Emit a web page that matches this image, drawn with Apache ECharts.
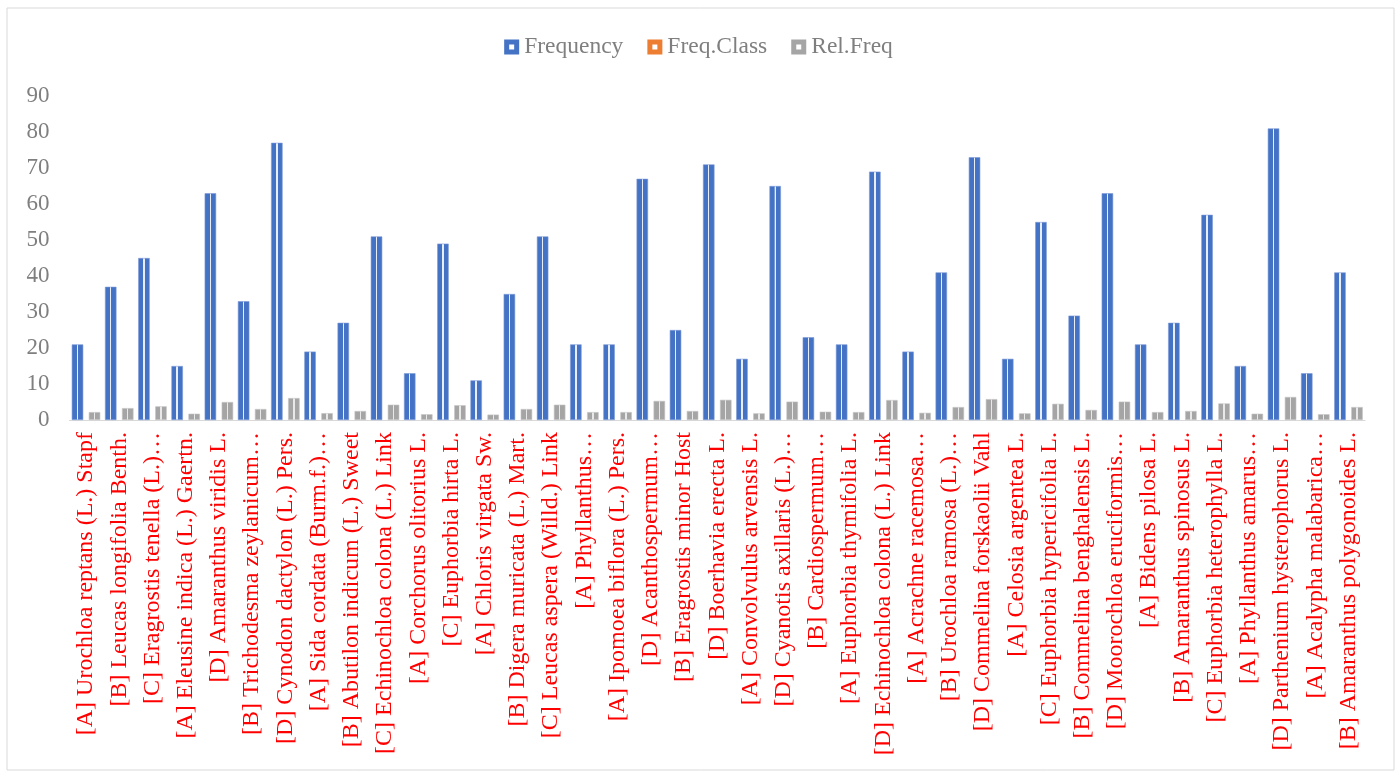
<!DOCTYPE html>
<html>
<head>
<meta charset="utf-8">
<script src="https://cdn.jsdelivr.net/npm/echarts@6/dist/echarts.min.js"></script>
<style>
html, body { margin: 0; padding: 0; background: #fff; }
#chart { width: 1397px; height: 772px; }
</style>
</head>
<body>
<div id="chart"></div>
<script>
var categories = [
	'[A] Urochloa reptans (L.) Stapf', '[B] Leucas longifolia Benth.', '[C] Eragrostis tenella (L.)…',
	'[A] Eleusine indica (L.) Gaertn.', '[D] Amaranthus viridis L.', '[B] Trichodesma zeylanicum…',
	'[D] Cynodon dactylon (L.) Pers.', '[A] Sida cordata (Burm.f.)…', '[B] Abutilon indicum (L.) Sweet',
	'[C] Echinochloa colona (L.) Link', '[A] Corchorus olitorius L.', '[C] Euphorbia hirta L.',
	'[A] Chloris virgata Sw.', '[B] Digera muricata (L.) Mart.', '[C] Leucas aspera (Willd.) Link',
	'[A] Phyllanthus…', '[A] Ipomoea biflora (L.) Pers.', '[D] Acanthospermum…',
	'[B] Eragrostis minor Host', '[D] Boerhavia erecta L.', '[A] Convolvulus arvensis L.',
	'[D] Cyanotis axillaris (L.)…', '[B] Cardiospermum…', '[A] Euphorbia thymifolia L.',
	'[D] Echinochloa colona (L.) Link', '[A] Acrachne racemosa…', '[B] Urochloa ramosa (L.)…',
	'[D] Commelina forskaolii Vahl', '[A] Celosia argentea L.', '[C] Euphorbia hypericifolia L.',
	'[B] Commelina benghalensis L.', '[D] Moorochloa eruciformis…', '[A] Bidens pilosa L.',
	'[B] Amaranthus spinosus L.', '[C] Euphorbia heterophylla L.', '[A] Phyllanthus amarus…',
	'[D] Parthenium hysterophorus L.', '[A] Acalypha malabarica…', '[B] Amaranthus polygonoides L.'
];

var frequency = [21, 37, 45, 15, 63, 33, 77, 19, 27, 51, 13, 49, 11, 35, 51, 21, 21, 67, 25, 71,
	17, 65, 23, 21, 69, 19, 41, 73, 17, 55, 29, 63, 21, 27, 57, 15, 81, 13, 41];

var freqClass = [0, 0, 0, 0, 0, 0, 0, 0, 0, 0, 0, 0, 0, 0, 0, 0, 0, 0, 0, 0,
	0, 0, 0, 0, 0, 0, 0, 0, 0, 0, 0, 0, 0, 0, 0, 0, 0, 0, 0];

var relFreq = [2.2, 3.3, 3.8, 1.75, 5.0, 3.05, 6.1, 1.9, 2.5, 4.25, 1.6, 4.1, 1.5, 3.05, 4.25, 2.2, 2.2, 5.3, 2.5, 5.6,
	1.85, 5.1, 2.3, 2.2, 5.55, 2.0, 3.6, 5.8, 1.85, 4.5, 2.8, 5.1, 2.2, 2.5, 4.6, 1.75, 6.4, 1.6, 3.6];

var yTicks = { min: 0, max: 90, interval: 10 };

var serifFont = "'Liberation Serif', 'Times New Roman', serif";
var squareIcon = 'path://M0,0H15V15H0Z M5,5V10H10V5Z';

var blue = '#4472c4', orange = '#ed7d31', grey = '#a5a5a5';

// bar fill with a thin pale stripe down the middle
function stripe(base, light){
	return new echarts.graphic.LinearGradient(0, 0, 1, 0, [
		{ offset: 0, color: base },
		{ offset: 0.44, color: base },
		{ offset: 0.441, color: light },
		{ offset: 0.559, color: light },
		{ offset: 0.56, color: base },
		{ offset: 1, color: base }
	]);
}

var chart = echarts.init(document.getElementById('chart'));

var option = {
	backgroundColor: '#fff',
	animation: false,
	textStyle: { fontFamily: serifFont },
	graphic: [{
		type: 'rect',
		shape: { x: 7, y: 8, width: 1387, height: 762 },
		style: { fill: 'none', stroke: '#d9d9d9', lineWidth: 1 },
		silent: true
	}],
	legend: {
		top: 30,
		left: 'center',
		itemWidth: 15,
		itemHeight: 15,
		itemGap: 24,
		icon: squareIcon,
		textStyle: { color: '#7f7f7f', fontSize: 23.5, fontFamily: serifFont },
		data: [
			{ name: 'Frequency', itemStyle: { color: blue, borderWidth: 0 } },
			{ name: 'Freq.Class', itemStyle: { color: orange, borderWidth: 0 } },
			{ name: 'Rel.Freq', itemStyle: { color: grey, borderWidth: 0 } }
		]
	},
	grid: {
		left: 69.4,
		right: 31.9,
		top: 96,
		bottom: 352,
		containLabel: false
	},
	xAxis: {
		type: 'category',
		data: categories,
		axisTick: { show: false },
		axisLine: { lineStyle: { color: '#d9d9d9', width: 1 } },
		axisLabel: {
			interval: 0,
			rotate: 90,
			margin: 12,
			color: '#ff0000',
			fontSize: 24,
			fontFamily: serifFont
		}
	},
	yAxis: {
		type: 'value',
		min: yTicks.min,
		max: yTicks.max,
		interval: yTicks.interval,
		splitLine: { show: false },
		axisLine: { show: false },
		axisTick: { show: false },
		axisLabel: { color: '#7f7f7f', fontSize: 23, margin: 20, fontFamily: serifFont }
	},
	series: [
		{
			name: 'Frequency',
			type: 'bar',
			barWidth: 11.5,
			barGap: '-26%',
			data: frequency,
			itemStyle: { color: stripe(blue, '#e8eef9'), borderColor: '#7d9bd6', borderWidth: 0.6 }
		},
		{
			name: 'Freq.Class',
			type: 'bar',
			barWidth: 11.5,
			data: freqClass,
			itemStyle: { color: orange }
		},
		{
			name: 'Rel.Freq',
			type: 'bar',
			barWidth: 11.5,
			data: relFreq,
			itemStyle: { color: stripe(grey, '#e8e8e8'), borderColor: '#c4c4c4', borderWidth: 0.6 }
		}
	]
};

chart.setOption(option);
</script>
</body>
</html>
